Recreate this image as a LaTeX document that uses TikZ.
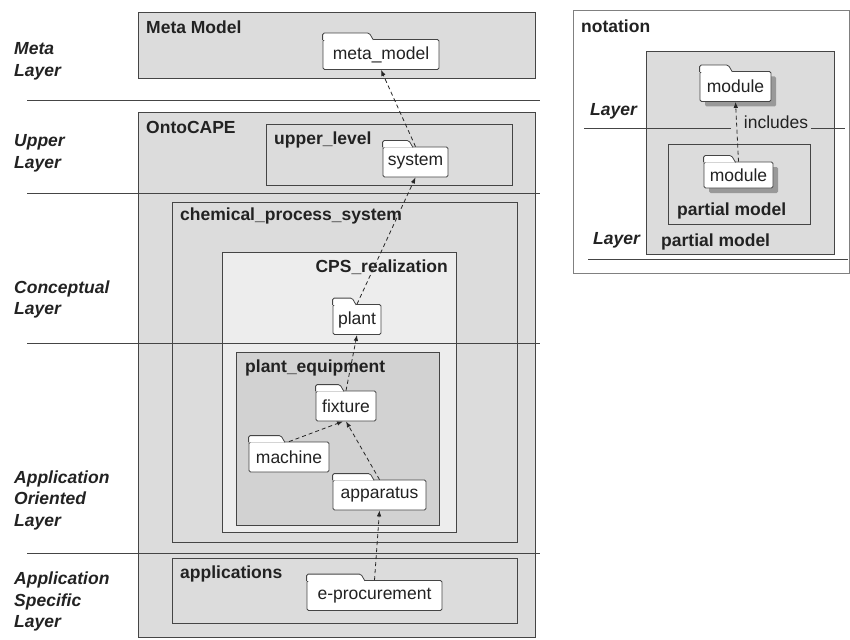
\documentclass[tikz,border=0pt]{standalone}
\usepackage{fontspec}
\setmainfont{Liberation Sans}
\usetikzlibrary{arrows.meta,calc,positioning,shadows}

\definecolor{boxgray}{HTML}{DCDCDC}
\definecolor{lightgray}{HTML}{EDEDED}
\definecolor{deepgray}{HTML}{D2D2D2}
\definecolor{edgegray}{HTML}{454545}
\definecolor{inkgray}{HTML}{222222}

% folder: options, name, position, width, text
\newcommand{\pkg}[5][]{%
  \node[folder,minimum width=#4,#1] (#2) at (#3) {#5};
  \filldraw[fill=white,draw=edgegray,line width=0.8pt,rounded corners=1.5pt]
    ([yshift=-0.8pt]#2.north west) -- ++(0,-6.8)
    -- ($(#2.north west)!0.4!(#2.north east)+(0,-6)$)
    -- ($(#2.north west)!0.4!(#2.north east)+(4,0.8)$);
}

\begin{document}
\begin{tikzpicture}[x=1pt,y=-1pt,>={Latex[length=6pt,width=4.5pt]}]
  \tikzset{
    box/.style={draw=edgegray,line width=0.8pt,fill=boxgray},
    sep/.style={draw=edgegray,line width=0.9pt},
    title/.style={anchor=west,inner sep=0pt,text=inkgray,
      font=\fontsize{17.5}{21}\selectfont\bfseries},
    layer/.style={anchor=west,align=left,inner sep=0pt,text=inkgray,
      font=\fontsize{17.5}{21.5}\selectfont\bfseries\itshape},
    folder/.style={draw=edgegray,fill=white,line width=0.8pt,
      rounded corners=1.5pt,minimum height=30pt,inner sep=2pt,text=inkgray,
      font=\fontsize{17.5}{20}\selectfont},
    dep/.style={->,dashed,dash pattern=on 4pt off 3pt,line width=0.8pt,draw=black!85}
  }
  \useasboundingbox (0,0) rectangle (850,639);

  % containers
  \draw[box] (138,12) rectangle (535,78);
  \draw[box] (138,112) rectangle (535,637);
  \draw[box] (266,124) rectangle (512,185);
  \draw[box] (172,202) rectangle (517,542);
  \draw[box,fill=lightgray] (222,252) rectangle (456,532);
  \draw[box,fill=deepgray] (236,352) rectangle (439,525);
  \draw[box] (172,558) rectangle (517,623);

  % layer borders
  \foreach \y in {100,193,343,553}
    \draw[sep] (27,\y) -- (540,\y);

  % layer names
  \node[layer] (metaL) at (14,61.5) {Meta\\Layer};
  \node[layer] (upperL) at (14,153.5) {Upper\\Layer};
  \node[layer] (conceptL) at (14,299.5) {Conceptual\\Layer};
  \node[layer] (orientL) at (14,500) {Application\\Oriented\\Layer};
  \node[layer] (specificL) at (14,601.5) {Application\\Specific\\Layer};

  % container titles
  \node[title] (metaT) at (146,27) {Meta Model};
  \node[title] (ontoT) at (146,127) {OntoCAPE};
  \node[title] (upperT) at (274,140) {upper\_level};
  \node[title] (cpsT) at (180,216) {chemical\_process\_system};
  \node[title,anchor=east] (realT) at (448,267) {CPS\_realization};
  \node[title] (equipT) at (245,368) {plant\_equipment};
  \node[title] (appT) at (180,574) {applications};

  % modules
  \pkg{metamodel}{381,54.5}{116pt}{meta\_model}
  \pkg{system}{415.5,162}{65pt}{system}
  \pkg{plant}{357,319.5}{48pt}{plant}
  \pkg{fixture}{346,406}{60pt}{fixture}
  \pkg{machine}{289,457}{80pt}{machine}
  \pkg{apparatus}{379.5,495}{93pt}{apparatus}
  \pkg{eproc}{374.5,595.5}{135pt}{e-procurement}

  % inclusions
  \draw[dep] (system.north) -- (metamodel.south);
  \draw[dep] (plant.north) -- (system.south);
  \draw[dep] (fixture.north) -- (plant.south);
  \draw[dep] (machine.north) -- ([xshift=-3pt]fixture.south);
  \draw[dep] (apparatus.north) -- (fixture.south);
  \draw[dep] (eproc.north) -- (apparatus.south);

  % notation
  \draw[draw=gray,line width=0.8pt,fill=white] (573,10) rectangle (849,273);
  \node[title] (notaT) at (581,26) {notation};
  \draw[box] (646,51) rectangle (834,254);
  \draw[box] (668,144) rectangle (810,224);
  \draw[sep] (584,128) -- (731,128);
  \draw[sep] (811,128) -- (845,128);
  \draw[sep] (588,259) -- (848,259);
  \node[layer] (layerA) at (590,111) {Layer};
  \node[layer] (layerB) at (593,240) {Layer};
  \node[title] (partA) at (677,211) {partial model};
  \node[title] (partB) at (661,242) {partial model};
  \pkg[drop shadow={shadow xshift=5pt,shadow yshift=-5pt,fill=gray!80,opacity=1}]{modA}{735.5,86.5}{71pt}{module}
  \pkg[minimum height=26pt,drop shadow={shadow xshift=5pt,shadow yshift=-5pt,fill=gray!80,opacity=1}]{modB}{738.5,175}{69pt}{module}
  \node[inner sep=0pt,text=inkgray,font=\fontsize{17.5}{20}\selectfont] (inc) at (776,122) {includes};
  \draw[dep] (modB.north) -- (modA.south);
\end{tikzpicture}
\end{document}
